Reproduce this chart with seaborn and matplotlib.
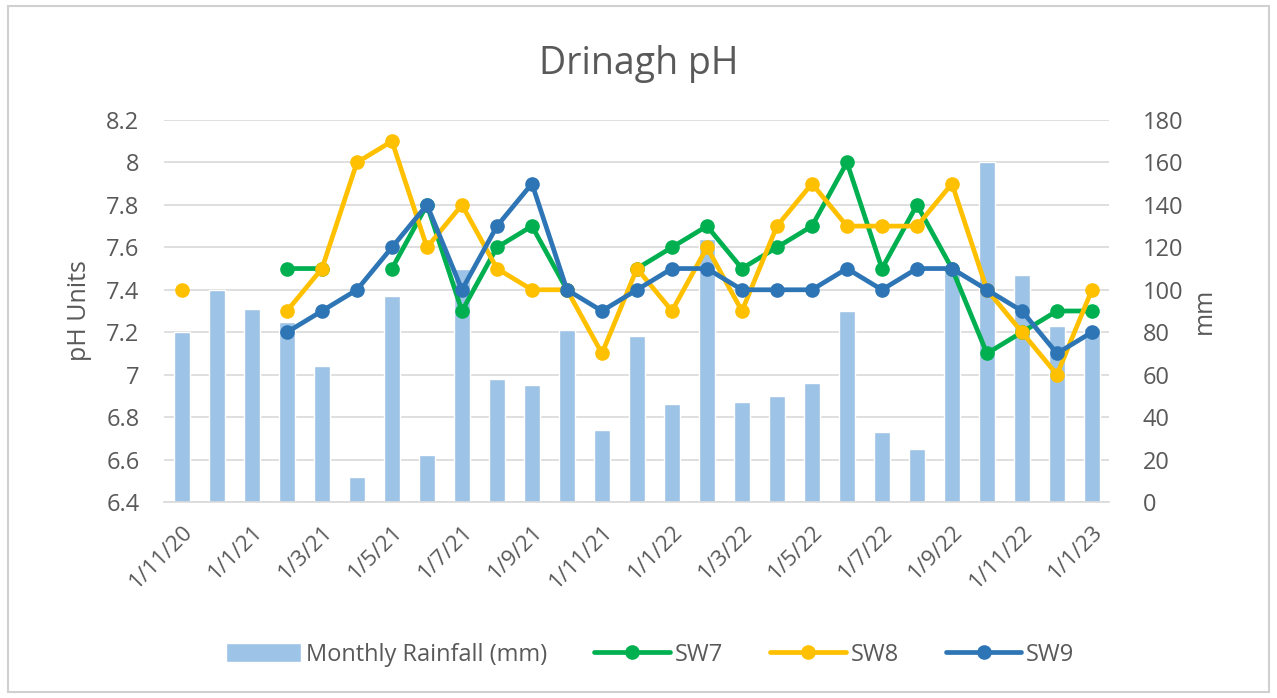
import numpy as np
import pandas as pd
import matplotlib
matplotlib.use('Agg')
import matplotlib.pyplot as plt
import seaborn as sns
from matplotlib.lines import Line2D
from matplotlib.patches import Patch, Rectangle
from matplotlib.ticker import FuncFormatter

# Dados
months = ['1/11/20', '1/12/20', '1/1/21', '1/2/21', '1/3/21', '1/4/21', '1/5/21',
          '1/6/21', '1/7/21', '1/8/21', '1/9/21', '1/10/21', '1/11/21', '1/12/21',
          '1/1/22', '1/2/22', '1/3/22', '1/4/22', '1/5/22', '1/6/22', '1/7/22',
          '1/8/22', '1/9/22', '1/10/22', '1/11/22', '1/12/22', '1/1/23']

rainfall = [80, 100, 91, 85, 64, 12, 97, 22, 110, 58, 55, 81, 34, 78,
            46, 124, 47, 50, 56, 90, 33, 25, 110, 160, 107, 83, 82]

nan = np.nan
sw7 = [nan, nan, nan, 7.5, 7.5, nan, 7.5, 7.8, 7.3, 7.6, 7.7, 7.4, nan, 7.5,
       7.6, 7.7, 7.5, 7.6, 7.7, 8.0, 7.5, 7.8, 7.5, 7.1, 7.2, 7.3, 7.3]
sw8 = [7.4, nan, nan, 7.3, 7.5, 8.0, 8.1, 7.6, 7.8, 7.5, 7.4, 7.4, 7.1, 7.5,
       7.3, 7.6, 7.3, 7.7, 7.9, 7.7, 7.7, 7.7, 7.9, 7.4, 7.2, 7.0, 7.4]
sw9 = [nan, nan, nan, 7.2, 7.3, 7.4, 7.6, 7.8, 7.4, 7.7, 7.9, 7.4, 7.3, 7.4,
       7.5, 7.5, 7.4, 7.4, 7.4, 7.5, 7.4, 7.5, 7.5, 7.4, 7.3, 7.1, 7.2]

series = {'SW7': (sw7, '#00B050'), 'SW8': (sw8, '#FFC000'), 'SW9': (sw9, '#2E75B6')}
bar_color = '#9DC3E6'
text_color = '#595959'
grid_color = '#D9D9D9'

sns.set_theme(style='white')
plt.rcParams['font.family'] = ['Open Sans', 'DejaVu Sans']
plt.rcParams['text.color'] = text_color

fig = plt.figure(figsize=(12.77, 6.98), dpi=100)
ax = fig.add_axes([0.1288, 0.2808, 0.7400, 0.5473])
ax2 = ax.twinx()

# Barras de chuva no eixo secundário
df_rain = pd.DataFrame({'Mes': months, 'Chuva': rainfall})
sns.barplot(data=df_rain, x='Mes', y='Chuva', ax=ax2, color=bar_color,
            saturation=1, width=0.46, order=months)
ax2.set_ylim(0, 180)
ax2.set_yticks(np.arange(0, 181, 20))
ax2.set_axisbelow(True)
ax2.yaxis.grid(True, color=grid_color, linewidth=1.2)
ax2.set_ylabel('mm', fontsize=18, color=text_color, labelpad=6)
ax2.set_xlabel('')

# Linhas de pH no eixo principal (desenhado por cima)
ax.set_zorder(ax2.get_zorder() + 1)
ax.patch.set_visible(False)
x = np.arange(len(months))
for name, (vals, col) in series.items():
    ax.plot(x, vals, color=col, linewidth=3.4, marker='o', markersize=9.5,
            solid_capstyle='round', label=name)
ax.set_ylim(6.4, 8.2)
ax.set_yticks(np.round(np.arange(6.4, 8.21, 0.2), 1))
ax.yaxis.set_major_formatter(FuncFormatter(lambda v, p: f'{v:g}'))
ax.set_ylabel('pH Units', fontsize=18, color=text_color, labelpad=10)
ax.set_xlim(-0.5, len(months) - 0.5)
ax.set_xticks(x[::2])
ax.set_xticklabels(months[::2], rotation=45, ha='right', rotation_mode='anchor',
                   fontsize=16, color=text_color)

for a in (ax, ax2):
    for s in a.spines.values():
        s.set_visible(False)
    a.tick_params(length=0, labelsize=17, colors=text_color)
ax.tick_params(axis='x', labelsize=16)
ax.spines['bottom'].set_visible(True)
ax.spines['bottom'].set_color(grid_color)
ax.spines['bottom'].set_linewidth(1.2)
ax.tick_params(axis='x', pad=14)
ax.tick_params(axis='y', pad=18)
ax2.tick_params(axis='y', pad=24)

fig.suptitle('Drinagh pH', fontsize=27, color=text_color, y=0.935)

handles = [Patch(facecolor=bar_color, label='Monthly Rainfall (mm)')]
for name, (vals, col) in series.items():
    handles.append(Line2D([0], [0], color=col, linewidth=3.4, marker='o',
                          markersize=9.5, label=name))
fig.legend(handles=handles, loc='center', bbox_to_anchor=(0.509, 0.062), ncol=4,
           frameon=False, fontsize=17, handlelength=3.2, handleheight=0.9,
           handletextpad=0.2, columnspacing=2.0, labelcolor=text_color)

fig.patches.append(Rectangle((0.006, 0.008), 0.988, 0.984, transform=fig.transFigure,
                             fill=False, edgecolor='#D0D0D0', linewidth=1.5))

fig.savefig('out.png', dpi=100, facecolor='white')
